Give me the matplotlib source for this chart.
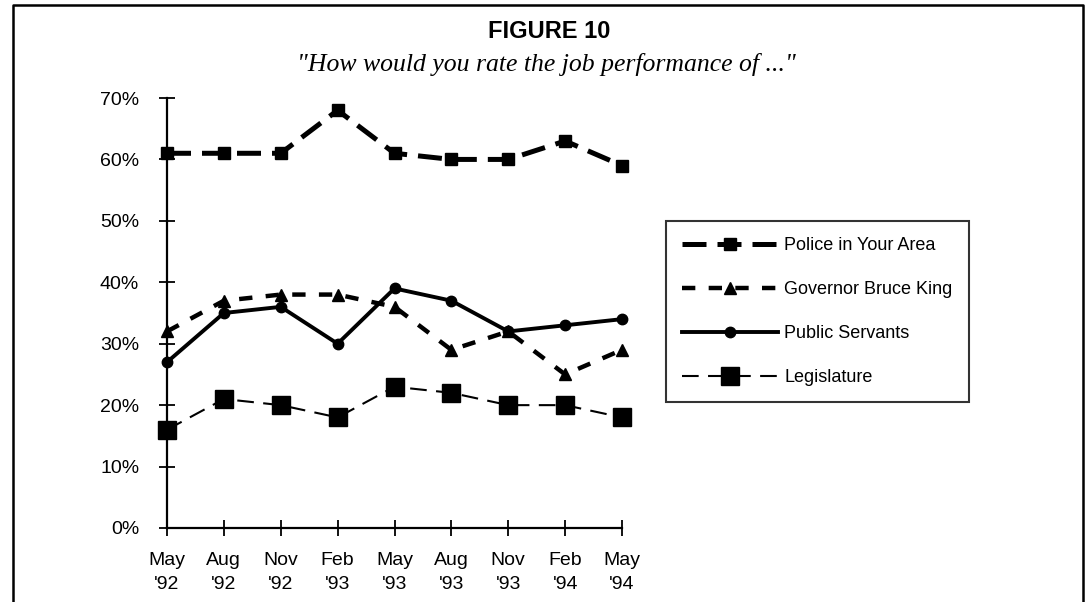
import matplotlib
matplotlib.use("Agg")
import matplotlib.pyplot as plt
from matplotlib.lines import Line2D

plt.rcParams['font.family'] = ['Liberation Sans', 'DejaVu Sans']

months = ["May\n'92", "Aug\n'92", "Nov\n'92", "Feb\n'93", "May\n'93",
          "Aug\n'93", "Nov\n'93", "Feb\n'94", "May\n'94"]
police = [61, 61, 61, 68, 61, 60, 60, 63, 59]
governor = [32, 37, 38, 38, 36, 29, 32, 25, 29]
public_servants = [27, 35, 36, 30, 39, 37, 32, 33, 34]
legislature = [16, 21, 20, 18, 23, 22, 20, 20, 18]
y_ticks = [0, 10, 20, 30, 40, 50, 60, 70]

W, H = 1089, 602
fig = plt.figure(figsize=(W / 100, H / 100), dpi=100)
ax = fig.add_axes([167 / W, 1 - 528 / H, (622 - 167) / W, (528 - 98) / H])

x = list(range(len(months)))
l1, = ax.plot(x, police, color='black', lw=3.6, dashes=(4.8, 2.2), marker='s', ms=9,
              label='Police in Your Area', clip_on=False)
l2, = ax.plot(x, governor, color='black', lw=3.2, dashes=(3.0, 3.0), marker='^', ms=9,
              label='Governor Bruce King', clip_on=False)
l3, = ax.plot(x, public_servants, color='black', lw=2.8, marker='o', ms=7.5,
              label='Public Servants', clip_on=False)
l4, = ax.plot(x, legislature, color='black', lw=1.5, dashes=(8, 4.5), marker='s', ms=13.5,
              label='Legislature', clip_on=False)

ax.set_xlim(0, 8)
ax.set_ylim(0, 70)
ax.set_xticks(x)
ax.set_xticklabels(months, fontsize=14, linespacing=1.6)
ax.set_yticks(y_ticks)
ax.set_yticklabels([f"{v}%" for v in y_ticks], fontsize=14)
for s in ['top', 'right']:
    ax.spines[s].set_visible(False)
for s in ['left', 'bottom']:
    ax.spines[s].set_linewidth(1.6)
ax.tick_params(axis='both', direction='inout', length=12, width=1.3, colors='black')
ax.tick_params(axis='x', pad=11)
ax.tick_params(axis='y', pad=14)

leg = fig.legend(handles=[l1, l2, l3, l4], loc='upper left',
                 bbox_to_anchor=(666 / W, 1 - 221 / H), bbox_transform=fig.transFigure,
                 numpoints=1, handlelength=5.3, handletextpad=0.35, labelspacing=1.49,
                 borderpad=0.9, fontsize=13, frameon=True, fancybox=False,
                 edgecolor='black', borderaxespad=0)
leg.get_frame().set_linewidth(1.5)

fig.text(549 / W, 1 - 32 / H, "FIGURE 10", ha='center', va='center',
         fontsize=17, fontweight='bold')
fig.text(546 / W, 1 - 65 / H, "\"How would you rate the job performance of ...\"",
         ha='center', va='center', fontsize=18.5, style='italic',
         family=['Liberation Serif', 'DejaVu Serif'])

# Outer frame (top, left, right)
fig.add_artist(Line2D([13 / W, 13 / W, 1083 / W, 1083 / W],
                      [0, 1 - 5 / H, 1 - 5 / H, 0], transform=fig.transFigure,
                      color='black', lw=1.8))

fig.savefig("out.png", dpi=100)
